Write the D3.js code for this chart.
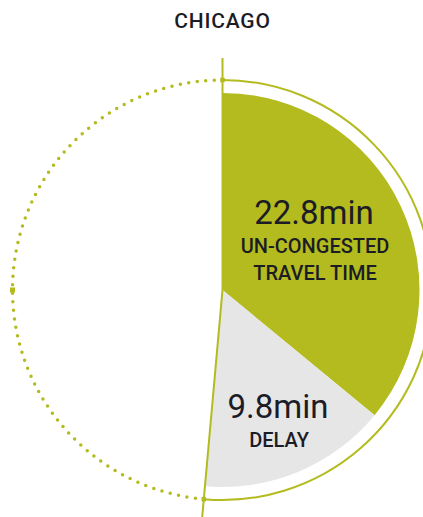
<!DOCTYPE html>
<html>
<head>
<meta charset="utf-8">
<script src="https://cdn.jsdelivr.net/npm/d3@7"></script>
<style>
  html, body { margin: 0; padding: 0; background: #ffffff; }
  svg { display: block; }
  text { font-family: Roboto, "Open Sans", sans-serif; fill: #1c1c26; }
</style>
</head>
<body>
<svg id="chart" width="423" height="517"></svg>
<script>
// Chicago commute: free-flow travel time plus delay, in minutes
const city = "CHICAGO";
const segments = ["UN-CONGESTED TRAVEL TIME", "DELAY"];
const minutes = [22.8, 9.8];
const valueLabels = ["22.8min", "9.8min"];
const labelLines = [["UN-CONGESTED", "TRAVEL TIME"], ["DELAY"]];
// minutes represented by one full turn of the dial
const dialMinutes = 63.4;

const green = "#b3bb1e";
const grey = "#e6e6e6";

const svg = d3.select("#chart");
const cx = 222.5, cy = 290;
const rSlice = 197, rRing = 210, rSpoke = 232;

const angle = d3.scaleLinear().domain([0, dialMinutes]).range([0, 2 * Math.PI]);
const total = d3.sum(minutes);
const endAngle = angle(total);

const g = svg.append("g").attr("transform", `translate(${cx},${cy})`);

// title
svg.append("text")
  .attr("x", cx).attr("y", 28)
  .attr("text-anchor", "middle")
  .attr("font-size", 21)
  .attr("font-weight", 500)
  .attr("letter-spacing", 0.8)
  .text(city);

// slices
const pie = d3.pie().sort(null).value(d => d).startAngle(0).endAngle(endAngle);
const arcs = pie(minutes);
const sliceArc = d3.arc().innerRadius(0).outerRadius(rSlice);
g.selectAll("path.slice")
  .data(arcs)
  .join("path")
  .attr("class", "slice")
  .attr("d", sliceArc)
  .attr("fill", (d, i) => i === 0 ? green : grey);

// solid ring over the elapsed part
const ringArc = d3.arc().innerRadius(rRing).outerRadius(rRing);
g.append("path")
  .attr("d", ringArc({ startAngle: 0, endAngle: endAngle }))
  .attr("fill", "none")
  .attr("stroke", green)
  .attr("stroke-width", 2);

// dotted ring over the remainder of the dial
const remPath = d3.path();
remPath.arc(0, 0, rRing, endAngle - Math.PI / 2, 2 * Math.PI - Math.PI / 2, false);
const remLen = (2 * Math.PI - endAngle) * rRing;
const nDots = Math.round(remLen / 8.6);
g.append("path")
  .attr("d", remPath.toString())
  .attr("fill", "none")
  .attr("stroke", green)
  .attr("stroke-width", 3.5)
  .attr("stroke-linecap", "round")
  .attr("stroke-dasharray", `0 ${remLen / nDots}`);

// spokes at start and end
const pt = (a, r) => [r * Math.sin(a), -r * Math.cos(a)];
[0, endAngle].forEach(a => {
  const [x, y] = pt(a, rSpoke);
  g.append("line")
    .attr("x1", 0).attr("y1", 0).attr("x2", x).attr("y2", y)
    .attr("stroke", green).attr("stroke-width", 2);
});

// square markers on the ring
[0, endAngle, angle(dialMinutes * 0.75)].forEach((a, i) => {
  const [x, y] = pt(a, rRing);
  const s = i === 2 ? 5 : 4.5;
  g.append("rect")
    .attr("x", x - s / 2).attr("y", y - s / 2)
    .attr("width", s).attr("height", s)
    .attr("fill", green);
});

// labels
const labelPos = [[314, 224], [278, 418]];
labelPos.forEach(([x, y], i) => {
  svg.append("text")
    .attr("x", x).attr("y", y)
    .attr("text-anchor", "middle")
    .attr("font-size", 33)
    .text(valueLabels[i]);
  labelLines[i].forEach((line, j) => {
    svg.append("text")
      .attr("x", x + 1).attr("y", y + 29 + j * 27)
      .attr("text-anchor", "middle")
      .attr("font-size", 20)
      .attr("font-weight", 500)
      .text(line);
  });
});
</script>
</body>
</html>
